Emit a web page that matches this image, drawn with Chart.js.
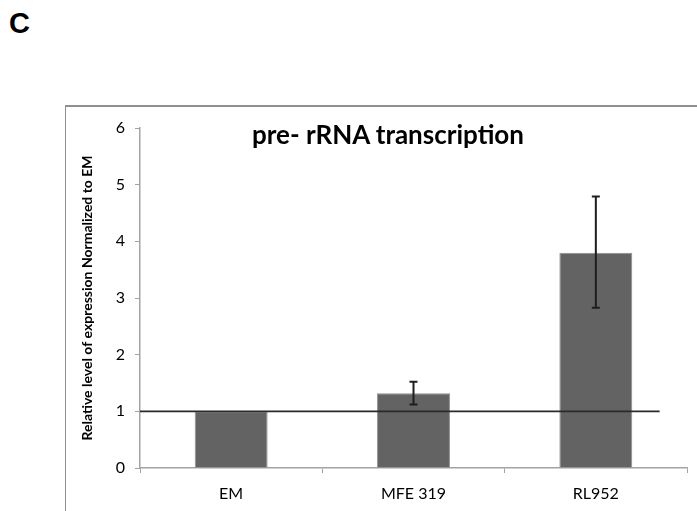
<!DOCTYPE html>
<html>
<head>
<meta charset="utf-8">
<script src="https://cdn.jsdelivr.net/npm/chart.js@4.4.1/dist/chart.umd.min.js"></script>
<style>
    body { margin: 0; background: #fff; }
    #wrap { position: relative; width: 697px; height: 511px; overflow: hidden; }
    #panel { position: absolute; left: 9px; top: 7px; font: bold 29px "Liberation Sans", Arial, sans-serif; color: #000; }
    #box { position: absolute; left: 65px; top: 105px; width: 640px; height: 420px;
           border-top: 2px solid #8f8f8f; border-left: 1px solid #8f8f8f; }
    #title { position: absolute; left: 220px; width: 336px; top: 118px; text-align: center;
             font: bold 26px Lato, "Open Sans", sans-serif; color: #000; }
    canvas { position: absolute; left: 0; top: 0; }
</style>
</head>
<body>
<div id="wrap">
    <div id="panel">C</div>
    <div id="box"></div>
    <canvas id="chart" width="697" height="511"></canvas>
    <div id="title">pre- rRNA transcription</div>
</div>
<script>
// Werte
const categories = ['EM', 'MFE 319', 'RL952'];
const expression = [1.0, 1.32, 3.80];
const errLow = [1.0, 1.12, 2.83];
const errHigh = [1.0, 1.52, 4.79];
const yTicks = [0, 1, 2, 3, 4, 5, 6];
const baseline = 1;

const axisGrey = '#a3a3a3';
const font = { family: 'Lato, "Open Sans", sans-serif', size: 16 };

// Fehlerbalken über die Skalen zeichnen
const errorBars = {
    id: 'errorBars',
    afterDatasetsDraw(chart) {
        const { ctx, scales } = chart;
        const meta = chart.getDatasetMeta(0);
        ctx.save();
        ctx.strokeStyle = '#1e1e1e';
        ctx.lineWidth = 2;
        meta.data.forEach((bar, i) => {
            if (errHigh[i] === errLow[i]) return;
            const x = bar.x;
            const yTop = scales.y.getPixelForValue(errHigh[i]);
            const yBot = scales.y.getPixelForValue(errLow[i]);
            ctx.beginPath();
            ctx.moveTo(x, yTop); ctx.lineTo(x, yBot);
            ctx.moveTo(x - 4, yTop); ctx.lineTo(x + 4, yTop);
            ctx.moveTo(x - 4, yBot); ctx.lineTo(x + 4, yBot);
            ctx.stroke();
        });
        ctx.restore();
    }
};

new Chart(document.getElementById('chart'), {
    type: 'bar',
    data: {
        labels: categories,
        datasets: [{
            data: expression,
            backgroundColor: '#636363',
            borderColor: '#8e8e8e',
            borderWidth: 1,
            barPercentage: 0.4,
            categoryPercentage: 1,
            grouped: false,
            order: 1
        }, {
            type: 'line',
            xAxisID: 'xl',
            data: [{ x: -0.5, y: baseline }, { x: 2.35, y: baseline }],
            borderColor: '#2a2a2a',
            borderWidth: 1.6,
            pointRadius: 0,
            order: 0
        }]
    },
    options: {
        responsive: false,
        animation: false,
        layout: { padding: { left: 79, right: 10, top: 128, bottom: 0 } },
        plugins: { legend: { display: false }, tooltip: { enabled: false } },
        scales: {
            x: {
                offset: true,
                grid: { offset: true, drawOnChartArea: false, tickLength: 5, color: axisGrey },
                border: { color: axisGrey, width: 1.5 },
                ticks: { color: '#000', font, padding: 11 },
                afterFit: s => { s.height = 43; }
            },
            xl: {
                type: 'linear',
                display: false,
                offset: false,
                min: -0.5,
                max: 2.5
            },
            y: {
                min: 0,
                max: 6,
                afterBuildTicks: s => { s.ticks = yTicks.map(v => ({ value: v })); },
                grid: { drawOnChartArea: false, tickLength: 5, color: axisGrey },
                border: { color: axisGrey, width: 1.5 },
                ticks: { color: '#000', font, padding: 10 },
                title: {
                    display: true,
                    text: 'Relative level of expression Normalized to EM',
                    color: '#000',
                    font: { family: 'Lato, "Open Sans", sans-serif', size: 14, weight: 'bold' },
                    padding: { top: 0, bottom: 0 }
                },
                afterFit: s => { s.width = 61; }
            }
        }
    },
    plugins: [errorBars]
});
</script>
</body>
</html>
